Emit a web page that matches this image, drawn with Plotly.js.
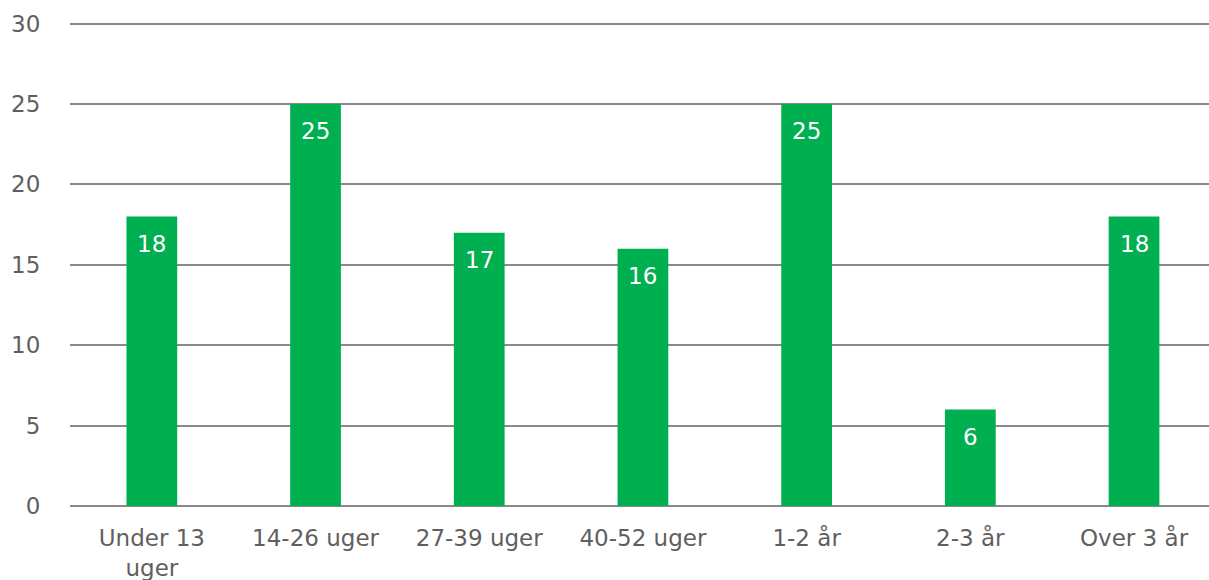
<!DOCTYPE html>
<html>
<head>
<meta charset="utf-8">
<script src="https://cdn.plot.ly/plotly-3.0.1.min.js"></script>
<style>html,body{margin:0;padding:0;background:#fff;}#chart{width:1209px;height:580px;}</style>
</head>
<body>
<div id="chart"></div>
<script>
const categories = ["Under 13<br>uger", "14-26 uger", "27-39 uger", "40-52 uger", "1-2 år", "2-3 år", "Over 3 år"];
const values = [18, 25, 17, 16, 25, 6, 18];
const yTicks = [0, 5, 10, 15, 20, 25, 30];

const FONT = 'DejaVu Sans, sans-serif';
const xs = categories.map((c, i) => i);

const trace = {
  type: 'bar',
  x: xs,
  y: values,
  marker: {color: '#00b050'},
  hoverinfo: 'none'
};

const annotations = values.map((v, i) => ({
  x: xs[i], y: v, xref: 'x', yref: 'y',
  text: String(v), showarrow: false,
  yanchor: 'top', yshift: -12,
  font: {family: FONT, size: 23, color: '#ffffff'}
}));

const layout = {
  width: 1209, height: 580,
  margin: {l: 70, r: 0, t: 14, b: 74},
  paper_bgcolor: '#ffffff', plot_bgcolor: '#ffffff',
  bargap: 0.69,
  showlegend: false,
  font: {family: FONT, size: 23, color: '#5f5f5f'},
  annotations: annotations,
  xaxis: {
    range: [-0.5, 6.458],
    tickmode: 'array',
    tickvals: xs,
    ticktext: categories,
    showgrid: false, zeroline: false, showline: false,
    ticks: 'outside', ticklen: 11, tickcolor: 'rgba(0,0,0,0)',
    tickfont: {family: FONT, size: 23, color: '#5f5f5f'}
  },
  yaxis: {
    range: [0, 30.6],
    tickmode: 'array',
    tickvals: yTicks,
    ticktext: yTicks.map(String),
    showgrid: true, gridcolor: '#8a8a8a', gridwidth: 2,
    zeroline: true, zerolinecolor: '#8a8a8a', zerolinewidth: 2,
    showline: false,
    ticks: 'outside', ticklen: 24, tickcolor: 'rgba(0,0,0,0)',
    tickfont: {family: FONT, size: 23, color: '#5f5f5f'}
  }
};

Plotly.newPlot('chart', [trace], layout, {staticPlot: true, displayModeBar: false});
</script>
</body>
</html>
